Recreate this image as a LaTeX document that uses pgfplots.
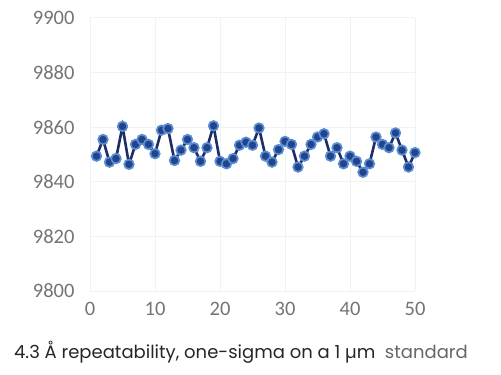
\documentclass[border=0pt]{standalone}
\usepackage{pgfplots}
\pgfplotsset{compat=1.18}
\usepackage{fontspec}
\setmainfont{Carlito}
\newfontfamily\capfont{Poppins}
\definecolor{linec}{HTML}{1F2D66}
\definecolor{markc}{HTML}{23448A}
\definecolor{ringc}{HTML}{5A8ED4}
\definecolor{gridc}{HTML}{EEF3F3}
\definecolor{tickc}{HTML}{747474}
\begin{document}
\begin{tikzpicture}[x=1bp,y=1bp]
\useasboundingbox (0,0) rectangle (501,374);
\begin{axis}[
  at={(90bp,83bp)}, anchor=south west,
  scale only axis, width=325bp, height=273bp,
  xmin=0, xmax=50, ymin=9800, ymax=9900,
  xtick={0,10,...,50}, ytick={9800,9820,...,9900},
  axis line style={draw=none},
  major tick length=0pt,
  grid=major, major grid style={gridc, line width=1bp},
  tick label style={font=\fontsize{20.5bp}{24bp}\selectfont, text=tickc},
  /pgf/number format/assume math mode=true,
  /pgf/number format/1000 sep={},
  yticklabel style={xshift=-12bp},
  xticklabel style={yshift=-8bp},
  clip=false,
]
\addplot[linec, line width=2.6bp, mark=*, mark size=4.8bp,
  mark options={fill=markc, draw=ringc, line width=1.7bp}]
coordinates {
(1,9849.4)(2,9855.5)(3,9847.2)(4,9848.5)(5,9860.3)(6,9846.4)(7,9853.7)(8,9855.5)(9,9853.7)(10,9850.3)
(11,9858.9)(12,9859.5)(13,9847.8)(14,9851.6)(15,9855.5)(16,9852.5)(17,9847.5)(18,9852.5)(19,9860.5)(20,9847.5)
(21,9846.6)(22,9848.5)(23,9853.4)(24,9854.5)(25,9853.4)(26,9859.7)(27,9849.4)(28,9847.2)(29,9851.8)(30,9854.8)
(31,9853.7)(32,9845.4)(33,9849.4)(34,9853.7)(35,9856.4)(36,9857.6)(37,9849.4)(38,9852.5)(39,9846.6)(40,9849.4)
(41,9847.5)(42,9843.5)(43,9846.6)(44,9856.4)(45,9853.7)(46,9852.5)(47,9857.9)(48,9851.6)(49,9845.4)(50,9850.7)
};
\end{axis}
\node[anchor=base, font=\capfont\fontsize{18bp}{21bp}\selectfont, text=black!85] at (241,16)
  {4.3 Å repeatability, one-sigma on a 1 µm\ \ \textcolor{black!60}{standard}};
\end{tikzpicture}
\end{document}
